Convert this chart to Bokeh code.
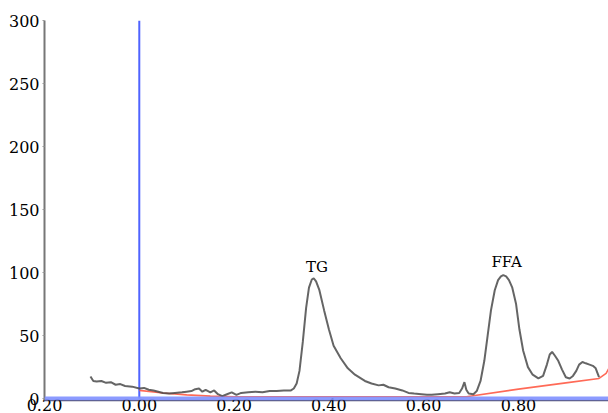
from bokeh.plotting import figure
from bokeh.models import Range1d, FixedTicker, Label, Span
from bokeh.embed import file_html
from bokeh.resources import INLINE

# Chromatogram trace (grey)
trace_x = [-0.103, -0.097, -0.09, -0.08, -0.07, -0.06, -0.05, -0.04, -0.03, -0.015, 0.0, 0.01,
           0.02, 0.03, 0.04, 0.05, 0.063, 0.075, 0.09, 0.10, 0.11, 0.118, 0.126, 0.133,
           0.14, 0.15, 0.158, 0.166, 0.175, 0.185, 0.195, 0.205, 0.215, 0.23, 0.245, 0.26, 0.275,
           0.29, 0.305, 0.32, 0.326, 0.332, 0.338, 0.345, 0.352, 0.358, 0.364, 0.368, 0.373,
           0.38, 0.39, 0.40, 0.41, 0.425, 0.44, 0.455, 0.476, 0.49, 0.505, 0.515, 0.526,
           0.54, 0.555, 0.568, 0.58, 0.595, 0.607, 0.617, 0.63, 0.645, 0.655, 0.665, 0.675,
           0.681, 0.686, 0.690, 0.695, 0.705, 0.712, 0.72, 0.728, 0.735, 0.742, 0.75, 0.757,
           0.763, 0.768, 0.774, 0.78, 0.787, 0.795, 0.802, 0.81, 0.82, 0.83, 0.842, 0.852,
           0.86, 0.866, 0.871, 0.877, 0.884, 0.892, 0.90, 0.908, 0.915, 0.922, 0.928, 0.935,
           0.942, 0.95, 0.957, 0.963, 0.97]
trace_y = [17.5, 14, 13.5, 14, 12.5, 13, 11, 11.5, 10, 9.5, 8, 8.5,
           7, 6.5, 5.5, 4.5, 4, 4.5, 5, 5.5, 6, 7.5, 8, 5.5,
           7, 5, 6.5, 3.5, 2, 3.5, 5, 3, 4.5, 5, 5.5, 5, 6,
           6, 6.5, 6.5, 8, 12, 22, 45, 72, 88, 94.5, 95.5, 93,
           86, 70, 55, 42, 32, 24, 19, 14, 12, 10.5, 11, 9,
           8, 6.5, 4.5, 4, 3.5, 3, 3, 3.5, 4, 5, 4, 4.5,
           8, 13, 7, 4, 3.5, 6, 14, 30, 50, 70, 86, 94,
           97, 98, 97, 94, 88, 75, 55, 38, 25, 19, 16, 18,
           27, 35, 37, 34, 30, 23, 17, 16, 18, 22, 27, 29,
           28, 27, 26, 24, 17]

# Baseline (red)
base_x = [0.0, 0.05, 0.10, 0.15, 0.20, 0.40, 0.60, 0.69, 0.80, 0.90, 0.97, 0.985, 0.995]
base_y = [6.5, 4.5, 3, 2, 1.5, 1.5, 1.5, 1.5, 7.5, 12.5, 16, 20, 27]

peak_labels = ["TG", "FFA"]
peak_x = [0.375, 0.775]
peak_y = [97, 101]

x_ticks = [-0.2, 0.0, 0.2, 0.4, 0.6, 0.8]
x_tick_labels = ["0.20", "0.00", "0.20", "0.40", "0.60", "0.80"]
y_ticks = [0, 50, 100, 150, 200, 250, 300]

FONT = "DejaVu Serif"

p = figure(width=608, height=413, output_backend="svg", toolbar_location=None,
           x_range=Range1d(-0.2, 0.99), y_range=Range1d(-1.5, 300))
p.min_border_left = 44
p.min_border_right = 0
p.min_border_top = 20
p.min_border_bottom = 0
p.outline_line_color = None
p.grid.visible = False
p.background_fill_color = "white"

# axes
p.yaxis.ticker = FixedTicker(ticks=y_ticks)
p.yaxis.axis_line_color = "#777777"
p.yaxis.axis_line_width = 2
p.yaxis.major_tick_out = 2
p.yaxis.major_tick_in = 0
p.yaxis.minor_tick_line_color = None
p.yaxis.major_tick_line_color = "#999999"
p.yaxis.major_label_standoff = 3
p.yaxis.major_label_text_font = FONT
p.yaxis.major_label_text_font_size = "16px"
p.yaxis.major_label_text_color = "black"

p.xaxis.ticker = FixedTicker(ticks=x_ticks)
p.xaxis.major_label_overrides = {t: l for t, l in zip(x_ticks, x_tick_labels)}
p.xaxis.axis_line_color = "#555577"
p.xaxis.axis_line_width = 1.5
p.xaxis.major_tick_out = 0
p.xaxis.major_tick_in = 0
p.xaxis.minor_tick_line_color = None
p.xaxis.major_label_standoff = -2
p.xaxis.major_label_text_font = FONT
p.xaxis.major_label_text_font_size = "16px"
p.xaxis.major_label_text_color = "black"

# blue markers
p.add_layout(Span(location=0, dimension="width", line_color="#7f90ff", line_width=4, line_alpha=0.9))
p.segment(x0=[0.0], y0=[0], x1=[0.0], y1=[300], line_color="#4f63ff", line_width=2)

p.line(base_x, base_y, line_color="#ff5a45", line_width=1.6, line_alpha=0.9)
p.line(trace_x, trace_y, line_color="#4a4a4a", line_width=2, line_alpha=0.85)

for t, x, y in zip(peak_labels, peak_x, peak_y):
    p.add_layout(Label(x=x, y=y, text=t, text_align="center", text_baseline="bottom",
                       text_font=FONT, text_font_size="15px", text_color="black"))

open("out.html", "w").write(file_html(p, INLINE))
